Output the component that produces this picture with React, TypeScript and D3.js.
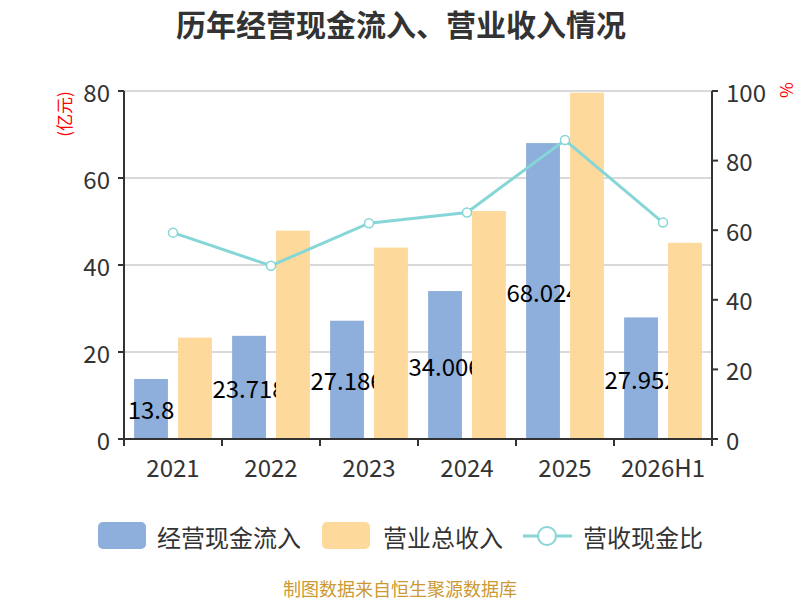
import * as d3 from 'd3';

const categories = ['2021', '2022', '2023', '2024', '2025', '2026H1'];
const cashInflow = [13.8, 23.718, 27.186, 34.006, 68.024, 27.952];
const revenue = [23.3, 47.9, 44.0, 52.4, 79.6, 45.1];
const ratio = [59.3, 49.8, 62.0, 65.1, 85.9, 62.2];
const leftTicks = [0, 20, 40, 60, 80];
const rightTicks = [0, 20, 40, 60, 80, 100];
const seriesNames = ['经营现金流入', '营业总收入', '营收现金比'];

const W = 800;
const H = 600;
const left = 124;
const right = 712;
const top = 91;
const bottom = 439;

const BLUE = '#8eaedb';
const ORANGE = '#fdd99b';
const TEAL = '#86d6d8';
const FONT = "'Noto Sans CJK SC', 'Noto Sans', sans-serif";

export default function App() {
  const x = d3.scaleBand<string>().domain(categories).range([left, right]);
  const inner = d3.scaleBand<string>().domain(['cash', 'rev'])
    .range([0, x.bandwidth()]).paddingInner(0.23).paddingOuter(0.23);
  const yL = d3.scaleLinear().domain([0, 80]).range([bottom, top]);
  const yR = d3.scaleLinear().domain([0, 100]).range([bottom, top]);

  const line = d3.line<number>()
    .x((_, i) => x(categories[i])! + x.bandwidth() / 2)
    .y(d => yR(d));

  const boundaries = [...categories.map(c => x(c)!), right];

  return (
    <svg width={W} height={H} style={{ position: 'absolute', left: 0, top: 0, fontFamily: FONT }}>
      <rect width={W} height={H} fill="#fff" />
      <text x={401} y={23} textAnchor="middle" dominantBaseline="central"
        fontSize={30} fontWeight="bold" fill="#333">历年经营现金流入、营业收入情况</text>

      {/* grid */}
      {leftTicks.map(t => (
        <line key={t} x1={left} x2={right} y1={yL(t)} y2={yL(t)} stroke="#ccc" strokeWidth={1.5} />
      ))}

      {/* cash bars */}
      {cashInflow.map((v, i) => (
        <rect key={i} x={x(categories[i])! + inner('cash')!} y={yL(v)}
          width={inner.bandwidth()} height={yL(0) - yL(v)} fill={BLUE} />
      ))}
      {/* labels sit under revenue bars */}
      {cashInflow.map((v, i) => (
        <text key={i} x={x(categories[i])! + inner('cash')! + inner.bandwidth() / 2}
          y={(yL(v) + yL(0)) / 2} textAnchor="middle" dominantBaseline="central"
          fontSize={24} fill="#000">{String(v)}</text>
      ))}
      {/* revenue bars */}
      {revenue.map((v, i) => (
        <rect key={i} x={x(categories[i])! + inner('rev')!} y={yL(v)}
          width={inner.bandwidth()} height={yL(0) - yL(v)} fill={ORANGE} />
      ))}

      {/* ratio line */}
      <path d={line(ratio)!} fill="none" stroke={TEAL} strokeWidth={3} />
      {ratio.map((v, i) => (
        <circle key={i} cx={x(categories[i])! + x.bandwidth() / 2} cy={yR(v)} r={4.5}
          fill="#fff" stroke={TEAL} strokeWidth={1.5} />
      ))}

      {/* left axis */}
      <line x1={left} x2={left} y1={top} y2={bottom} stroke="#333" strokeWidth={2} />
      {leftTicks.map(t => (
        <g key={t}>
          <line x1={left - 6} x2={left} y1={yL(t)} y2={yL(t)} stroke="#333" strokeWidth={2} />
          <text x={left - 14} y={yL(t)} textAnchor="end" dominantBaseline="central"
            fontSize={24} fill="#333">{t}</text>
        </g>
      ))}
      <text transform={`translate(63,114) rotate(-90)`} textAnchor="middle" dominantBaseline="central"
        fontSize={17} fill="#f00">(亿元)</text>

      {/* right axis */}
      <line x1={right} x2={right} y1={top} y2={bottom} stroke="#333" strokeWidth={2} />
      {rightTicks.map(t => (
        <g key={t}>
          <line x1={right} x2={right + 6} y1={yR(t)} y2={yR(t)} stroke="#333" strokeWidth={2} />
          <text x={right + 14} y={yR(t)} textAnchor="start" dominantBaseline="central"
            fontSize={24} fill="#333">{t}</text>
        </g>
      ))}
      <text transform={`translate(787,90) rotate(90)`} textAnchor="middle" dominantBaseline="central"
        fontSize={17} fill="#f00">%</text>

      {/* bottom axis */}
      <line x1={left - 6} x2={right + 6} y1={bottom} y2={bottom} stroke="#333" strokeWidth={2} />
      {boundaries.map((b, i) => (
        <line key={i} x1={b} x2={b} y1={bottom} y2={bottom + 7} stroke="#333" strokeWidth={2} />
      ))}
      {categories.map(c => (
        <text key={c} x={x(c)! + x.bandwidth() / 2} y={466} textAnchor="middle" dominantBaseline="central"
          fontSize={24} fill="#333">{c}</text>
      ))}

      {/* legend */}
      <rect x={98} y={522} width={48} height={27} rx={5} fill={BLUE} />
      <text x={157} y={536} dominantBaseline="central" fontSize={24} fill="#333">{seriesNames[0]}</text>
      <rect x={322} y={522} width={48} height={27} rx={5} fill={ORANGE} />
      <text x={383} y={536} dominantBaseline="central" fontSize={24} fill="#333">{seriesNames[1]}</text>
      <line x1={523} x2={572} y1={536} y2={536} stroke={TEAL} strokeWidth={3} />
      <circle cx={547} cy={536} r={9} fill="#fff" stroke={TEAL} strokeWidth={2} />
      <text x={583} y={536} dominantBaseline="central" fontSize={24} fill="#333">{seriesNames[2]}</text>

      <text x={400} y={588} textAnchor="middle" dominantBaseline="central" fontSize={18}
        fill="#cc9933">制图数据来自恒生聚源数据库</text>
    </svg>
  );
}
